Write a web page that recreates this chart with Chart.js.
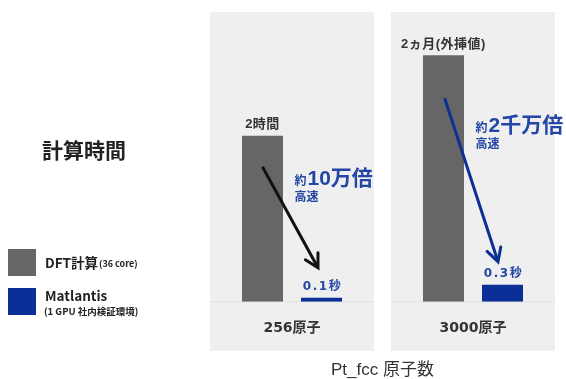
<!DOCTYPE html>
<html><head><meta charset="utf-8">
<script src="https://cdn.jsdelivr.net/npm/chart.js@4"></script>
<style>html,body{margin:0;padding:0;background:#fff;}canvas{display:block;}</style>
</head><body>
<canvas id="c" width="566" height="379" style="width:566px;height:379px"></canvas>
<script>
// ---- data ----
const categories = ['256原子', '3000原子'];
const seriesNames = ['DFT計算', 'Matlantis'];
const seriesNotes = ['(36 core)', '(1 GPU 社内検証環境)'];
// illustrative bar heights as drawn in the reference (not to scale)
const dftHeights = [165, 245];
const matlantisHeights = [4, 17];
const dftLabels = ['2時間', '2ヵ月(外挿値)'];
const matlantisLabels = ['0.1秒', '0.3秒'];
const speedupLabels = ['10万倍', '2千万倍'];
const chartTitle = '計算時間';
const xTitle = 'Pt_fcc 原子数';
const yMax = 288;

const FONT = "'Liberation Sans', 'Noto Sans CJK JP', sans-serif";
const WIDE = "'DejaVu Sans', 'Noto Sans CJK JP', sans-serif";
const JP = "'Noto Sans CJK JP', sans-serif";
const colors = ['#666666', '#0b2f96'];
const blueText = '#2447a6';

const panelPlugin = {
  id: 'panels',
  beforeDraw(chart) {
    const {ctx, chartArea, scales: {x}} = chart;
    const half = (x.getPixelForValue(1) - x.getPixelForValue(0)) * 0.453;
    ctx.save();
    categories.forEach((c, i) => {
      const cx = x.getPixelForValue(i);
      ctx.fillStyle = '#efefef';
      ctx.fillRect(cx - half, chartArea.top, half * 2, chartArea.bottom - chartArea.top + 49);
      ctx.fillStyle = '#e1e1e1';
      ctx.fillRect(cx - half, chartArea.bottom - 0.5, half * 2, 1);
    });
    ctx.restore();
  }
};

function arrow(ctx, x1, y1, x2, y2, color) {
  ctx.save();
  ctx.strokeStyle = color;
  ctx.lineWidth = 3;
  ctx.lineCap = 'round';
  ctx.lineJoin = 'miter';
  const a = Math.atan2(y2 - y1, x2 - x1);
  ctx.beginPath();
  ctx.moveTo(x1, y1);
  ctx.lineTo(x2 - Math.cos(a) * 2, y2 - Math.sin(a) * 2);
  ctx.stroke();
  const L = 15, w = 0.5;
  ctx.beginPath();
  ctx.moveTo(x2 - L * Math.cos(a - w), y2 - L * Math.sin(a - w));
  ctx.lineTo(x2, y2);
  ctx.lineTo(x2 - L * Math.cos(a + w), y2 - L * Math.sin(a + w));
  ctx.stroke();
  ctx.restore();
}

const annotPlugin = {
  id: 'annot',
  afterDatasetsDraw(chart) {
    const {ctx, chartArea} = chart;
    const m0 = chart.getDatasetMeta(0), m1 = chart.getDatasetMeta(1);
    const startDy = [32, 44], endDx = [-3.5, -4.5], endDy = [-30, -23];
    const arrowColors = ['#111111', '#0d3092'];
    const speedY = [chartArea.top + 166, chartArea.top + 113];
    ctx.save();
    categories.forEach((c, i) => {
      const g = m0.data[i], b = m1.data[i];
      ctx.textAlign = 'center';
      ctx.textBaseline = 'middle';
      ctx.font = 'bold 13px ' + FONT;
      ctx.fillStyle = '#333';
      ctx.letterSpacing = '0.5px';
      ctx.fillText(dftLabels[i], g.x, g.y - 11);
      ctx.font = 'bold 12px ' + WIDE;
      ctx.fillStyle = blueText;
      ctx.letterSpacing = '1.5px';
      ctx.fillText(matlantisLabels[i], b.x + 1, b.y - 11);
      ctx.letterSpacing = '0px';
      arrow(ctx, g.x + 0.5 + i, g.y + startDy[i], b.x + endDx[i], b.y + endDy[i], arrowColors[i]);
      // speedup text
      const sx = b.x - 27, sy = speedY[i];
      ctx.textAlign = 'left';
      ctx.textBaseline = 'alphabetic';
      ctx.fillStyle = blueText;
      ctx.font = 'bold 12px ' + JP;
      ctx.fillText('約', sx, sy + 7);
      const w1 = ctx.measureText('約').width;
      ctx.font = 'bold 21px ' + FONT;
      ctx.fillText(speedupLabels[i], sx + w1 + 1, sy + 7);
      ctx.font = 'bold 12px ' + JP;
      ctx.textBaseline = 'middle';
      ctx.fillText('高速', sx, sy + 18);
    });
    ctx.restore();
  },
  afterDraw(chart) {
    const {ctx} = chart;
    ctx.save();
    ctx.fillStyle = '#222';
    ctx.textBaseline = 'middle';
    ctx.textAlign = 'left';
    ctx.font = 'bold 21px ' + JP;
    ctx.fillText(chartTitle, 42, 150);
    const boxY = [249, 288];
    seriesNames.forEach((n, i) => {
      ctx.fillStyle = colors[i];
      ctx.fillRect(8, boxY[i], 28, 27);
      ctx.fillStyle = '#222';
      ctx.font = 'bold 13.5px ' + JP;
      if (i === 0) {
        ctx.fillText(n, 45, boxY[i] + 14);
        const w = ctx.measureText(n).width;
        ctx.font = 'bold 9px ' + JP;
        ctx.fillText(seriesNotes[i], 45 + w + 1, boxY[i] + 15);
      } else {
        ctx.fillText(n, 45, boxY[i] + 8);
        ctx.font = 'bold 9.5px ' + JP;
        ctx.fillText(seriesNotes[i], 44, boxY[i] + 23);
      }
    });
    ctx.restore();
  }
};

new Chart(document.getElementById('c'), {
  type: 'bar',
  data: {
    labels: categories,
    datasets: [
      {label: seriesNames[0], data: dftHeights, backgroundColor: colors[0], categoryPercentage: 0.652, barPercentage: 0.695},
      {label: seriesNames[1], data: matlantisHeights, backgroundColor: colors[1], categoryPercentage: 0.652, barPercentage: 0.695}
    ]
  },
  options: {
    responsive: false,
    animation: false,
    layout: {padding: {left: 201.5, right: 2.5, top: 12, bottom: 0}},
    plugins: {legend: {display: false}, tooltip: {enabled: false}},
    scales: {
      x: {
        grid: {display: false, drawTicks: false},
        border: {display: false},
        ticks: {color: '#333', font: {family: WIDE, size: 14, weight: 'bold'}, padding: 18},
        title: {display: true, text: xTitle, color: '#333', font: {family: FONT, size: 17, lineHeight: 1}, padding: {top: 7.4, bottom: 0}}
      },
      y: {display: false, min: 0, max: yMax}
    }
  },
  plugins: [panelPlugin, annotPlugin]
});
</script>
</body></html>
